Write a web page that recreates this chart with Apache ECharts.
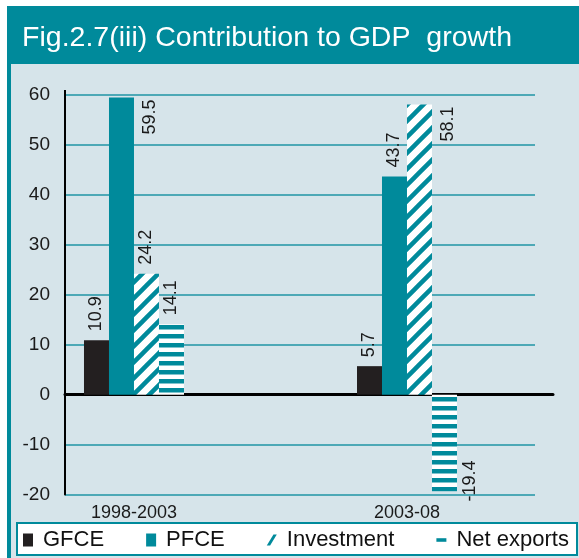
<!DOCTYPE html>
<html>
<head>
<meta charset="utf-8">
<script src="https://cdn.jsdelivr.net/npm/echarts@6/dist/echarts.min.js"></script>
<style>
  html, body { margin: 0; padding: 0; background: #fff; }
  #chart { width: 579px; height: 558px; }
</style>
</head>
<body>
<div id="chart"></div>
<script>
// data
const periods = ['1998-2003', '2003-08'];
const gfce = [10.9, 5.7];
const pfce = [59.5, 43.7];
const investment = [24.2, 58.1];
const netExports = [14.1, -19.4];
const yMin = -20, yMax = 60, yStep = 10;
const titleText = 'Fig.2.7(iii) Contribution to GDP  growth';

const TEAL = '#008a9b';
const DARK = '#231f20';
const PANEL = '#d6e4ea';
const FONT = 'Liberation Sans, Arial, sans-serif';

// hatch fills like the excel patterns
function hatch(kind) {
  const c = document.createElement('canvas');
  const g = c.getContext('2d');
  if (kind === 'diag') {
    const s = 16;
    c.width = s; c.height = s;
    g.fillStyle = '#fff'; g.fillRect(0, 0, s, s);
    g.strokeStyle = TEAL; g.lineWidth = 4.5;
    g.beginPath();
    [0, s, 2 * s].forEach(k => { g.moveTo(k + 2, -2); g.lineTo(k - s - 2, s + 2); });
    g.stroke();
  } else {
    c.width = 4; c.height = 9;
    g.fillStyle = '#fff'; g.fillRect(0, 0, 4, 9);
    g.fillStyle = TEAL; g.fillRect(0, 1, 4, 4.5);
  }
  return { image: c, repeat: 'repeat' };
}

// where the value label goes (offset is in the rotated text frame)
function labelFor(v) {
  if (v < 0) return { position: ['100%', '100%'], align: 'left', verticalAlign: 'top', offset: [-10, 4] };
  if (v > 55) return { position: ['100%', 0], align: 'right', verticalAlign: 'top', offset: [-2, 7] };
  return { position: 'top', distance: 9, align: 'left', verticalAlign: 'middle' };
}

function barSeries(name, values, color) {
  return {
    name: name,
    type: 'bar',
    xAxisIndex: 0,
    yAxisIndex: 0,
    barWidth: 25,
    barGap: '0%',
    itemStyle: { color: color },
    label: {
      show: true,
      rotate: 90,
      fontSize: 18,
      fontFamily: FONT,
      color: '#1a1a1a',
      formatter: p => p.value[1].toFixed(1)
    },
    data: values.map((v, i) => ({ value: [i, v], label: labelFor(v) }))
  };
}

// narrow title: squeeze regular sans to the header width
const titleFont = '28px "Liberation Sans"';
const ctx = document.createElement('canvas').getContext('2d');
ctx.font = titleFont;
const titleScale = 490 / ctx.measureText(titleText).width;

// x scale: category index 0,1 -> pixel centres 134 and 407
const xMin = -0.2527, xMax = 1.5348;

const chart = echarts.init(document.getElementById('chart'));
chart.setOption({
  animation: false,
  backgroundColor: '#fff',
  graphic: [
    { type: 'rect', z: -10, shape: { x: 7, y: 6, width: 572, height: 552 }, style: { fill: TEAL } },
    { type: 'rect', z: -9, shape: { x: 11, y: 64, width: 568, height: 494 }, style: { fill: PANEL } },
    { type: 'rect', z: -8, shape: { x: 17, y: 523, width: 560, height: 32 }, style: { fill: '#fff', stroke: TEAL, lineWidth: 2 } },
    { type: 'rect', z: 5, shape: { x: 64, y: 90, width: 2, height: 6 }, style: { fill: '#000' } },
    {
      type: 'text', x: 22, y: 38.5, scaleX: titleScale,
      style: { text: titleText, font: titleFont, fill: '#fff', verticalAlign: 'middle' }
    }
  ],
  legend: {
    left: 23,
    top: 529,
    padding: 0,
    itemWidth: 10,
    itemHeight: 13,
    itemGap: 42,
    textStyle: { fontSize: 22, fontFamily: FONT, color: '#111', padding: [0, 0, 0, 5] },
    data: [
      { name: 'GFCE', icon: 'rect' },
      { name: 'PFCE', icon: 'rect' },
      { name: 'Investment', icon: 'path://M0,13L4,13L12,0L8,0Z', itemStyle: { color: TEAL } },
      { name: 'Net exports', icon: 'path://M0,0H14V5H0Z', itemStyle: { color: TEAL } }
    ]
  },
  grid: [
    { left: 65, right: 26, top: 95, bottom: 63.5 },
    { left: 65, right: 44, top: 95, bottom: 63.5 }
  ],
  xAxis: [
    {
      type: 'value', gridIndex: 0, min: xMin, max: xMax,
      axisLine: { onZero: true, lineStyle: { color: '#000', width: 3 } },
      axisTick: { show: false }, axisLabel: { show: false }, splitLine: { show: false }
    },
    {
      type: 'value', gridIndex: 0, min: xMin, max: xMax, position: 'bottom',
      axisLine: { show: false, onZero: false }, axisTick: { show: false }, splitLine: { show: false },
      axisLabel: {
        customValues: [0, 1],
        formatter: v => periods[Math.round(v)],
        fontSize: 18, fontFamily: FONT, color: '#1a1a1a', margin: 10
      }
    },
    { type: 'value', gridIndex: 1, show: false, min: 0, max: 1 }
  ],
  yAxis: [
    {
      type: 'value', gridIndex: 0, min: yMin, max: yMax, interval: yStep,
      axisLine: { show: true, onZero: false, lineStyle: { color: '#000', width: 2 } },
      axisTick: { show: false },
      splitLine: { show: false },
      axisLabel: { fontSize: 19, fontFamily: FONT, color: '#1a1a1a', margin: 15 }
    },
    {
      type: 'value', gridIndex: 1, min: yMin, max: yMax, interval: yStep,
      axisLine: { show: false }, axisTick: { show: false }, axisLabel: { show: false },
      splitLine: { lineStyle: { color: '#1f95a5', width: 1.5 } }
    }
  ],
  series: [
    barSeries('GFCE', gfce, DARK),
    barSeries('PFCE', pfce, TEAL),
    barSeries('Investment', investment, hatch('diag')),
    barSeries('Net exports', netExports, hatch('horiz'))
  ]
});
</script>
</body>
</html>
